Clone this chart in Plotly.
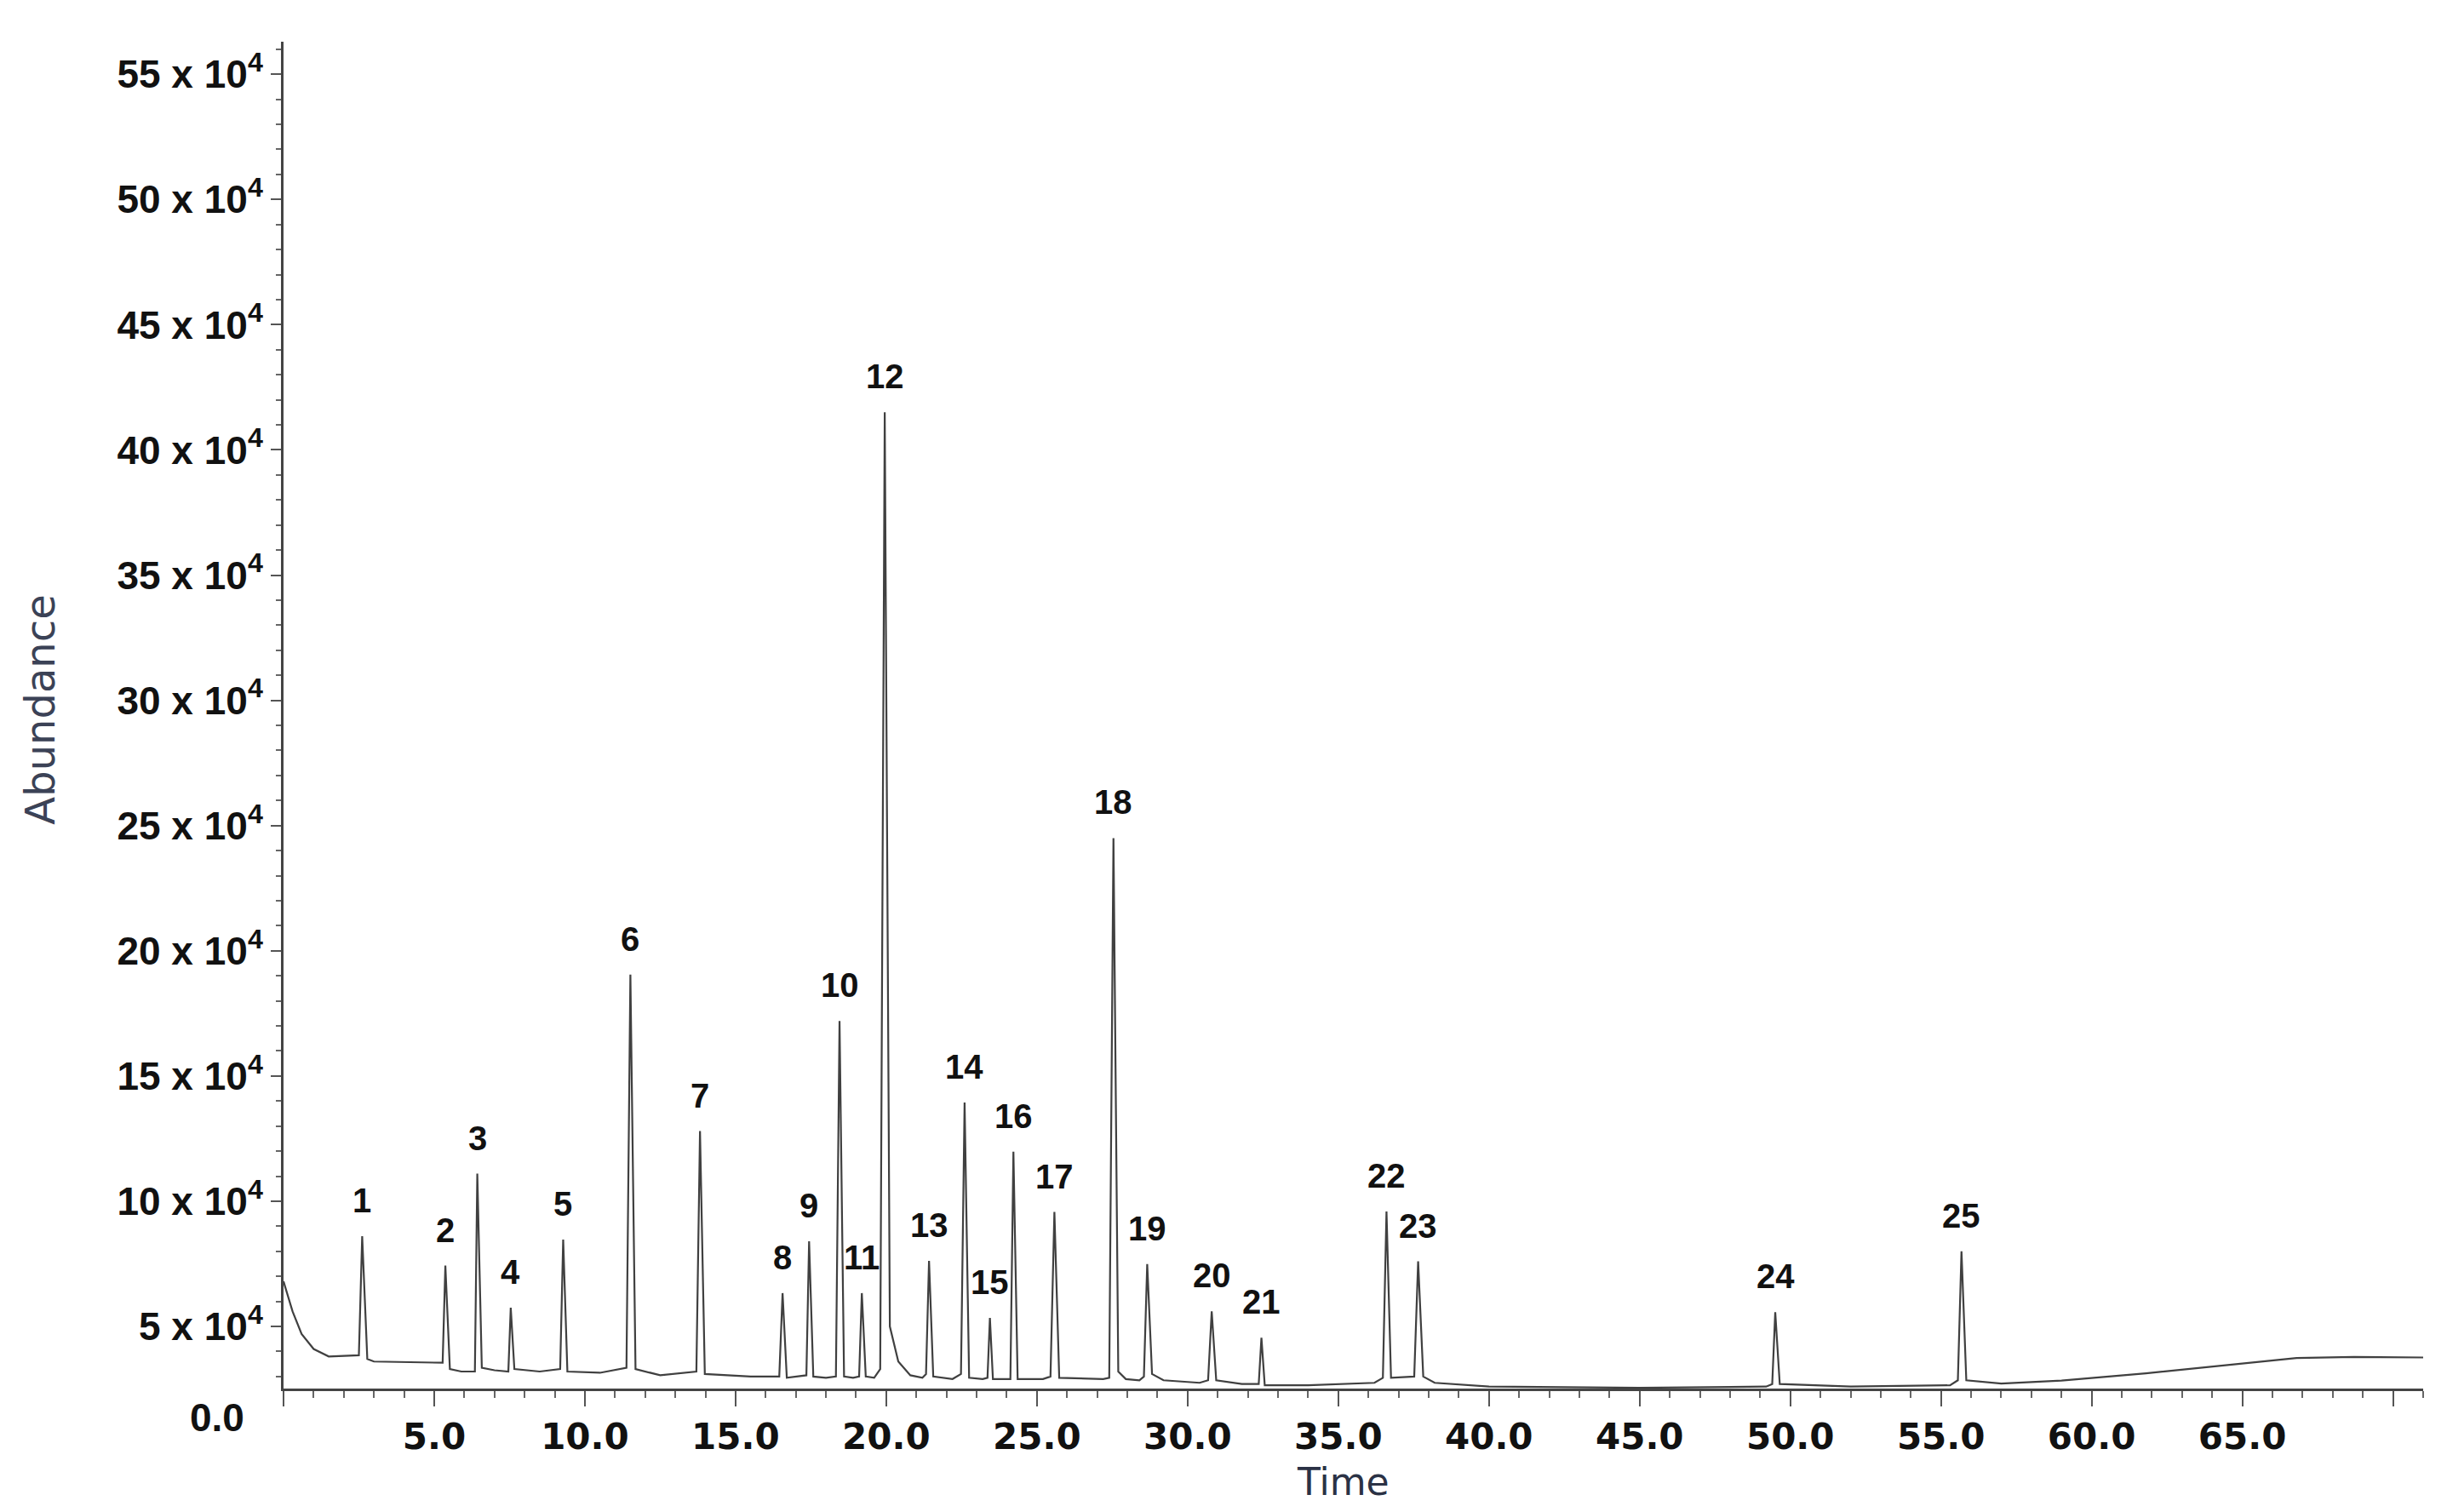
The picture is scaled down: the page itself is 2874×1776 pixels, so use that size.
import plotly.graph_objects as go

# chromatogram trace (time in min, abundance in counts)
time_min = [
    0.0, 0.3, 0.6, 1.0, 1.5, 2.4,
    2.5, 2.61, 2.78, 3.0, 5.1,
    5.28, 5.37, 5.52, 5.9,
    6.35, 6.43, 6.58, 7.0,
    7.46, 7.54, 7.66, 8.5,
    9.18, 9.28, 9.42, 10.5,
    11.38, 11.51, 11.68, 12.5,
    13.7, 13.82, 13.98, 15.5,
    16.45, 16.56, 16.7,
    17.35, 17.44, 17.58, 18.0,
    18.33, 18.45, 18.6, 18.9,
    19.1, 19.19, 19.32, 19.6,
    19.8, 19.95, 20.12, 20.4, 20.8, 21.2,
    21.32, 21.42, 21.56, 22.2,
    22.48, 22.6, 22.75, 23.2,
    23.36, 23.44, 23.54,
    24.12, 24.22, 24.36, 25.2,
    25.45, 25.58, 25.74, 27.2,
    27.4, 27.54, 27.7, 27.95, 28.4,
    28.55, 28.66, 28.82, 29.2, 30.4,
    30.68, 30.8, 30.95, 31.8,
    32.36, 32.45, 32.56, 34.0, 36.2,
    36.48, 36.6, 36.75,
    37.52, 37.65, 37.82, 38.2, 40.0, 45.0, 49.2,
    49.4, 49.5, 49.65, 52.0, 55.3,
    55.56, 55.68, 55.84, 57.0, 59.0, 61.8, 64.5, 66.8, 68.7, 71.0,
]
abundance = [
    68000, 56000, 47000, 41000, 38000, 38500,
    38500, 86000, 37000, 36000, 35500,
    35500, 74300, 33000, 32000,
    32000, 111000, 33500, 32500,
    32000, 57500, 33000, 32000,
    33000, 84700, 32000, 31500,
    33500, 190500, 33000, 30500,
    32000, 128000, 31000, 30000,
    30000, 63300, 29500,
    30500, 84000, 30000, 29500,
    30000, 172000, 30000, 29500,
    30000, 63300, 30000, 29500,
    33000, 415000, 50000, 36000, 30500, 29500,
    31000, 76200, 30000, 29000,
    31000, 139400, 29500, 29000,
    29500, 53400, 29000,
    29000, 119800, 29000, 29000,
    30000, 95700, 29500, 29000,
    29500, 245000, 32000, 29000, 28500,
    30000, 74900, 31000, 28500, 27500,
    28500, 56000, 28500, 27000,
    27000, 45500, 26500, 26500, 27500,
    29500, 95900, 29500,
    30000, 76000, 30000, 27500, 26000, 25500, 26000,
    27000, 55700, 27000, 26000, 26500,
    28500, 80000, 28500, 27200, 28400, 31300, 34700, 37400, 37800, 37600,
]

# numbered peaks (apex positions)
peak_num = [str(i) for i in range(1, 26)]
peak_time = [2.61, 5.37, 6.43, 7.54, 9.28, 11.51, 13.82, 16.56, 17.44, 18.45,
             19.19, 19.95, 21.42, 22.6, 23.44, 24.22, 25.58, 27.54, 28.66, 30.8,
             32.45, 36.6, 37.65, 49.5, 55.68]
peak_top = [86000, 74300, 111000, 57500, 84700, 190500, 128000, 63300, 84000, 172000,
            63300, 415000, 76200, 139400, 53400, 119800, 95700, 245000, 74900, 56000,
            45500, 95900, 76000, 55700, 80000]

x_ticks = [0, 5, 10, 15, 20, 25, 30, 35, 40, 45, 50, 55, 60, 65, 70]
x_tick_text = ["", "5.0", "10.0", "15.0", "20.0", "25.0", "30.0", "35.0", "40.0",
               "45.0", "50.0", "55.0", "60.0", "65.0", ""]
y_ticks = [50000, 100000, 150000, 200000, 250000, 300000,
           350000, 400000, 450000, 500000, 550000]
y_tick_text = [f"{v // 10000} x 10<sup>4</sup>" for v in y_ticks]

fig = go.Figure()

fig.add_trace(go.Scatter(
    x=time_min, y=abundance, mode="lines",
    line=dict(color="#404040", width=2.2),
    showlegend=False, hoverinfo="skip",
))

for n, t, h in zip(peak_num, peak_time, peak_top):
    fig.add_annotation(
        x=t, y=h, text=n, showarrow=False,
        xanchor="center", yanchor="bottom", yshift=18,
        font=dict(family="Liberation Sans, Arial, sans-serif", size=40, color="#111111", weight="bold"),
    )

# "0.0" sits below the axis corner in the original
fig.add_annotation(
    xref="paper", yref="paper", x=0, y=0, text="0.0", showarrow=False,
    xanchor="right", yanchor="middle", xshift=-44, yshift=-34,
    font=dict(family="Liberation Sans, Arial, sans-serif", size=46, color="#111111", weight="bold"),
)

# axis titles
fig.add_annotation(
    xref="paper", yref="paper", x=0, y=0.504, text="Abundance", showarrow=False,
    textangle=-90, xanchor="center", yanchor="middle", xshift=-286,
    font=dict(family="DejaVu Sans, Verdana, sans-serif", size=48, color="#3b4256"),
)
fig.add_annotation(
    xref="paper", yref="paper", x=0.4954, y=0, text="Time", showarrow=False,
    xanchor="center", yanchor="middle", yshift=-109,
    font=dict(family="DejaVu Sans, Verdana, sans-serif", size=44, color="#2b3245"),
)

fig.update_xaxes(
    range=[0, 71], tickvals=x_ticks, ticktext=x_tick_text,
    showgrid=False, zeroline=False,
    showline=True, linecolor="#444444", linewidth=3,
    ticks="outside", ticklen=18, tickwidth=2, tickcolor="#555555",
    minor=dict(dtick=1, ticks="outside", ticklen=8, tickwidth=1.5, tickcolor="#666666", showgrid=False),
    tickfont=dict(family="DejaVu Sans, Verdana, sans-serif", size=42, color="#111111", weight="bold"),
)
fig.update_yaxes(
    range=[25200, 563000], tickvals=y_ticks, ticktext=y_tick_text,
    showgrid=False, zeroline=False,
    showline=True, linecolor="#444444", linewidth=3,
    ticks="outside", ticklen=12, tickwidth=2, tickcolor="#555555",
    minor=dict(dtick=10000, ticks="outside", ticklen=6, tickwidth=1.5, tickcolor="#666666", showgrid=False),
    tickfont=dict(family="Liberation Sans, Arial, sans-serif", size=46, color="#111111", weight="bold"),
)

fig.update_layout(
    width=2874, height=1776,
    paper_bgcolor="white", plot_bgcolor="white",
    margin=dict(l=325, r=36, t=41, b=153),
)

fig.write_html("out.html")
